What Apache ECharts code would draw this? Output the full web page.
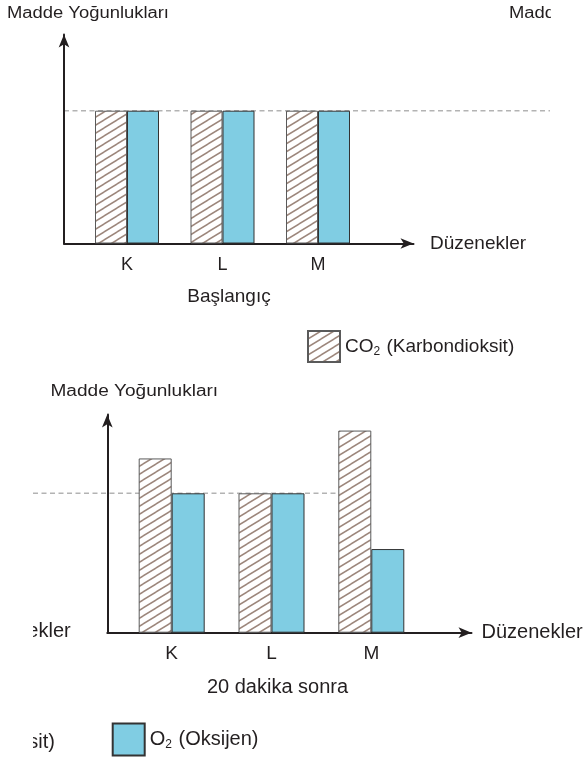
<!DOCTYPE html>
<html><head><meta charset="utf-8">
<script src="https://cdn.jsdelivr.net/npm/echarts@6/dist/echarts.min.js"></script>
<style>html,body{margin:0;padding:0;background:#fff}#c{width:587px;height:760px}</style>
</head><body><div id="c"></div>
<script>
// ---- data ----
const categories = ['K', 'L', 'M'];
const co2Start = [100, 100, 100];
const o2Start = [100, 100, 100];
const co2After = [125, 100, 145];
const o2After = [100, 100, 60];
const refLevel = 100;
const co2Name = 'CO2 (Karbondioksit)';
const o2Name = 'O2 (Oksijen)';
const yTitle = 'Madde Yoğunlukları';
const xTitle = 'Düzenekler';
const topCaption = 'Başlangıç';
const bottomCaption = '20 dakika sonra';

// ---- style ----
const FONT = '"Liberation Sans", Arial, Helvetica, sans-serif';
const INK = '#231f20';
const BLUE = '#80cde3';
const HATCH = '#9c867b';

function hatchCanvas() {
  const w = 13, h = 8;
  const c = document.createElement('canvas');
  c.width = w; c.height = h;
  const g = c.getContext('2d');
  g.fillStyle = '#ffffff'; g.fillRect(0, 0, w, h);
  g.strokeStyle = HATCH; g.lineWidth = 1.5;
  for (let i = -1; i <= 1; i++) for (let j = -1; j <= 1; j++) {
    g.beginPath(); g.moveTo(i * w, h + j * h); g.lineTo(w + i * w, j * h); g.stroke();
  }
  return c;
}
const hatchFill = { image: hatchCanvas(), repeat: 'repeat' };
const co2Style = { color: hatchFill, borderColor: '#5a5a5a', borderWidth: 1 };
const o2Style = { color: BLUE, borderColor: '#333333', borderWidth: 1 };

function frameX(gridIndex, nameGap, fontSize) {
  return {
    type: 'value', gridIndex, min: 0, max: 1,
    axisLine: { show: true, onZero: false, lineStyle: { color: INK, width: 2 }, symbol: ['none', 'arrow'], symbolSize: [8, 13] },
    axisTick: { show: false }, axisLabel: { show: false }, splitLine: { show: false },
    name: xTitle, nameLocation: 'end', nameGap,
    nameTextStyle: { fontSize, color: INK, fontFamily: FONT, align: 'left', verticalAlign: 'middle' }
  };
}
function frameY(gridIndex) {
  return {
    type: 'value', gridIndex, min: 0, max: 1,
    axisLine: { show: true, onZero: false, lineStyle: { color: INK, width: 2 }, symbol: ['none', 'arrow'], symbolSize: [8, 13] },
    axisTick: { show: false }, axisLabel: { show: false }, splitLine: { show: false }
  };
}
function catX(gridIndex, fontSize, margin) {
  return {
    type: 'category', gridIndex, data: categories,
    axisLine: { show: false }, axisTick: { show: false }, splitLine: { show: false },
    axisLabel: { fontSize, color: INK, fontFamily: FONT, margin }
  };
}
function valY(gridIndex) {
  return { type: 'value', gridIndex, min: 0, max: 150, show: false, splitLine: { show: false } };
}
function legendFmt(name) { return name.replace('2', '{s|2}'); }
function legendOf(name, left, top, w, h, fs) {
  return {
    data: [{ name, icon: 'rect' }], left, top, padding: 0, itemWidth: w, itemHeight: h,
    selectedMode: false, formatter: legendFmt,
    textStyle: { fontSize: fs, color: INK, fontFamily: FONT,
      rich: { s: { fontSize: Math.round(fs * 0.62), color: INK, fontFamily: FONT, padding: [11, 1, 0, 0] } } }
  };
}

const chart = echarts.init(document.getElementById('c'), null, { renderer: 'canvas' });
chart.setOption({
  animation: false,
  backgroundColor: '#ffffff',
  grid: [
    { left: 64, top: 34.5, width: 349.5, height: 209, outerBoundsMode: 'none' },
    { left: 79.25, top: 44.3, width: 286.5, height: 199.2, outerBoundsMode: 'none' },
    { left: 107.3, top: 414.5, width: 364.2, height: 218.2, outerBoundsMode: 'none' },
    { left: 121.8, top: 423.6, width: 299.4, height: 209.1, outerBoundsMode: 'none' }
  ],
  xAxis: [frameX(0, 16.5, 19), catX(1, 18, 12.5), frameX(2, 10, 20), catX(3, 19, 11.5)],
  yAxis: [frameY(0), valY(1), frameY(2), valY(3)],
  legend: [
    legendOf(co2Name, 307, 330, 32, 31, 19),
    legendOf(o2Name, 111.7, 722.5, 32, 32, 20)
  ],
  series: [
    { name: co2Name, type: 'bar', xAxisIndex: 1, yAxisIndex: 1, data: co2Start, barWidth: 32, barGap: '0%', itemStyle: co2Style },
    { name: o2Name, type: 'bar', xAxisIndex: 1, yAxisIndex: 1, data: o2Start, barWidth: 32, barGap: '0%', itemStyle: o2Style },
    { name: co2Name, type: 'bar', xAxisIndex: 3, yAxisIndex: 3, data: co2After, barWidth: 33, barGap: '0%', itemStyle: co2Style },
    { name: o2Name, type: 'bar', xAxisIndex: 3, yAxisIndex: 3, data: o2After, barWidth: 33, barGap: '0%', itemStyle: o2Style }
  ]
});

const yTopRef = chart.convertToPixel({ yAxisIndex: 1 }, refLevel);
const xTopStart = chart.convertToPixel({ xAxisIndex: 0 }, 0);
const yBotRef = chart.convertToPixel({ yAxisIndex: 3 }, refLevel);
const xBotEnd = chart.convertToPixel({ xAxisIndex: 3 }, 'M') - 33;
const dash = { stroke: '#b3b3b3', lineWidth: 1.5, lineDash: [5, 3.5] };

function txt(text, x, y, fs, align, sx) {
  return { type: 'text', x, y, scaleX: sx || 1, z: 50,
    style: { text, fill: INK, fontSize: fs, fontFamily: FONT, align: align || 'left', verticalAlign: 'middle' } };
}

chart.setOption({
  graphic: [
    { type: 'line', z: 0, shape: { x1: xTopStart, y1: yTopRef, x2: 550, y2: yTopRef }, style: dash },
    { type: 'line', z: 0, shape: { x1: 33, y1: yBotRef, x2: xBotEnd, y2: yBotRef }, style: dash },
    txt(yTitle, 7, 14, 16, 'left', 1.15),
    txt(yTitle, 509, 14, 16, 'left', 1.15),
    txt(yTitle, 50.5, 392, 16, 'left', 1.19),
    txt(topCaption, 229, 297, 19, 'center'),
    txt(bottomCaption, 277.5, 687, 20, 'center'),
    txt(xTitle, 70.7, 631, 20, 'right'),
    txt('CO₂ (Karbondioksit)', 55, 742, 20, 'right'),
    { type: 'rect', z: 100, shape: { x: 551, y: 0, width: 40, height: 120 }, style: { fill: '#ffffff' } },
    { type: 'rect', z: 100, shape: { x: 0, y: 600, width: 33, height: 160 }, style: { fill: '#ffffff' } }
  ]
});
</script>
</body></html>
